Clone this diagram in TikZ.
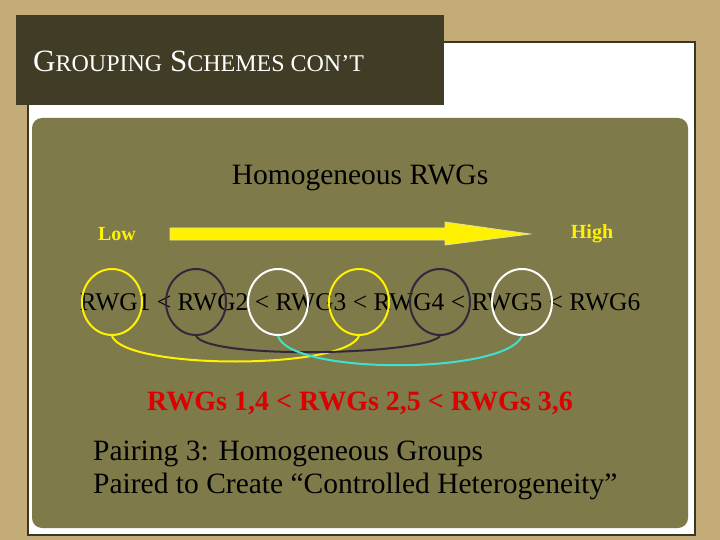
\documentclass[tikz,border=0pt]{standalone}
\usepackage{fontspec}
\usetikzlibrary{shapes.geometric}
\setmainfont{Liberation Serif}
\begin{document}
\begin{tikzpicture}[x=1pt,y=-1pt,
  circ/.style={draw,line width=2pt,ellipse,minimum width=60pt,minimum height=66pt,inner sep=0pt},
  arc/.style={line width=2pt}]
\fill[color={rgb,255:red,196;green,172;blue,120}] (0,0) rectangle (720,540);
\useasboundingbox (0,0) rectangle (720,540);
\draw[fill=white,draw={rgb,255:red,60;green,55;blue,35},line width=2.5pt] (28,42) rectangle (695,535);
\fill[color={rgb,255:red,127;green,122;blue,74},rounded corners=10pt] (32,118) rectangle (688,528);
\fill[color={rgb,255:red,64;green,60;blue,38}] (16,15) rectangle (444,105);
\node[anchor=base west,text=white,inner sep=0pt] (title) at (33,72) {\fontsize{31}{36}\selectfont G{\fontsize{24}{28}\selectfont ROUPING} S{\fontsize{24}{28}\selectfont CHEMES CON’T}};
\node[font=\fontsize{29.5}{34}\selectfont] (h) at (360,178) {Homogeneous RWGs};
\node[text=yellow,font=\bfseries\fontsize{20}{24}\selectfont] (low) at (117,234) {Low};
\node[text=yellow,font=\bfseries\fontsize{20}{24}\selectfont] (high) at (592,234) {High};
\fill[yellow,draw={rgb,255:red,230;green,225;blue,150},line width=0.8pt] (170,228) -- (445,228) -- (445,222) -- (530,234) -- (445,245) -- (445,240) -- (170,240) -- cycle;
\node[font=\fontsize{25.5}{30}\selectfont] (row) at (360,302) {RWG1 < RWG2 < RWG3 < RWG4 < RWG5 < RWG6};
\node[circ,draw=yellow] (c1) at (112,302) {};
\node[circ,draw={rgb,255:red,50;green,40;blue,60}] (c2) at (196,302) {};
\node[circ,draw=white] (c3) at (278,302) {};
\node[circ,draw=yellow] (c4) at (359,302) {};
\node[circ,draw={rgb,255:red,50;green,40;blue,60}] (c5) at (440,302) {};
\node[circ,draw=white] (c6) at (522,302) {};
\draw[arc,yellow] (c1.south) .. controls (125,370) and (345,370) .. (c4.south);
\draw[arc,color={rgb,255:red,50;green,40;blue,60}] (c2.south) .. controls (210,360) and (425,355) .. (c5.south);
\draw[arc,color={rgb,255:red,64;green,224;blue,208}] (c3.south) .. controls (290,375) and (505,375) .. (c6.south);
\node[text={rgb,255:red,220;green,0;blue,0},font=\bfseries\fontsize{28}{32}\selectfont] (red) at (360,403) {RWGs 1,4 < RWGs 2,5 < RWGs 3,6};
\node[anchor=north west,align=left,font=\fontsize{29.5}{33}\selectfont,inner sep=0pt] (p) at (93,441) {Pairing 3: Homogeneous Groups\\Paired to Create “Controlled Heterogeneity”};
\end{tikzpicture}
\end{document}
